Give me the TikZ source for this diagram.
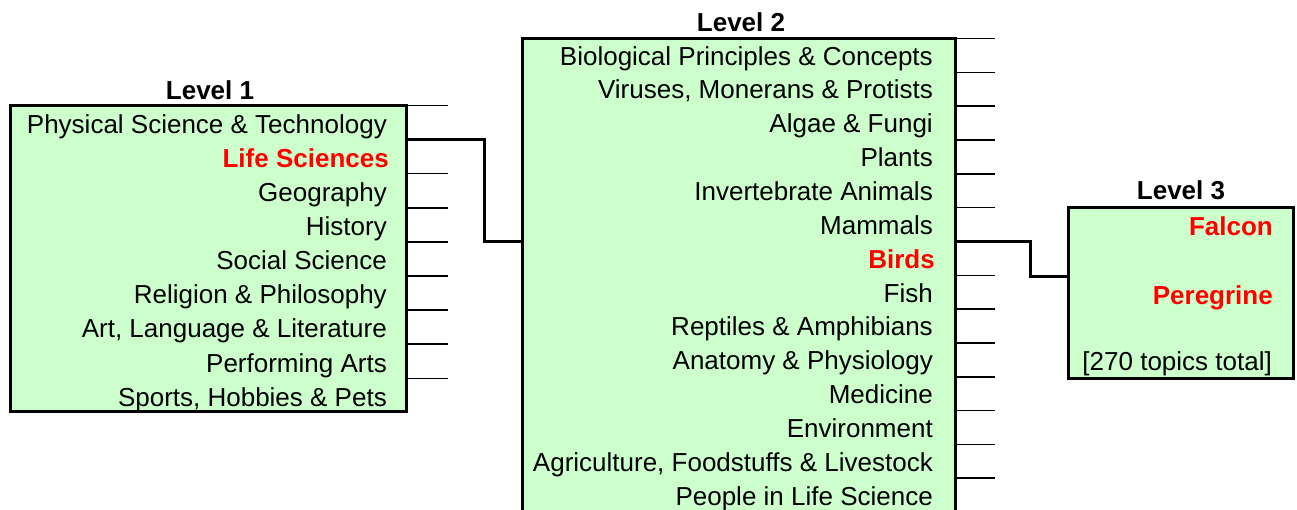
\documentclass[tikz,border=0pt]{standalone}
\usepackage{fontspec}
\setmainfont{Liberation Sans}
\usetikzlibrary{calc}
\definecolor{boxgreen}{HTML}{CCFFCC}
\definecolor{hotred}{HTML}{FF0000}
\begin{document}
\begin{tikzpicture}[x=1pt,y=-1pt,
  box/.style={draw=black, line width=3pt, fill=boxgreen, inner sep=0pt, outer sep=0pt, anchor=north west},
  tickline/.style={line width=1.6pt},
  conn/.style={line width=3pt},
  item/.style={anchor=base east, font=\fontsize{26}{30}\selectfont, text=black, inner sep=0pt},
  hot/.style={anchor=base east, font=\fontsize{26}{30}\selectfont\bfseries, text=hotred, inner sep=0pt},
  level/.style={anchor=base, font=\fontsize{26}{30}\selectfont\bfseries, inner sep=0pt}]
\useasboundingbox (0,0) rectangle (1297,510);
\clip (0,0) rectangle (1297,510);

% boxes
\node[box, minimum width=396pt, minimum height=306pt] (b1) at (10,105.5) {};
\node[box, minimum width=433pt, minimum height=473pt] (b2) at (522,38.5) {};
\node[box, minimum width=225pt, minimum height=170pt] (b3) at (1068,208) {};

% level labels
\node[level] (lv1) at (210,99.5) {Level 1};
\node[level] (lv2) at (741,32) {Level 2};
\node[level] (lv3) at (1181,200) {Level 3};

% ticks
\foreach \k in {0,2,3,4,5,6,7,8}
  \draw[tickline] ($(b1.north east)+(0,34.1*\k)$) -- ++(42,0);
\foreach \k in {0,1,2,3,4,5,7,8,9,10,11,12,13}
  \draw[tickline] ($(b2.north east)+(0,33.83*\k)$) -- ++(40,0);

% level 1 items
\node[item] (a1) at (387,133.3) {Physical Science \& Technology};
\node[hot]  (a2) at (389,167.4) {Life Sciences};
\node[item] (a3) at (387,201.5) {Geography};
\node[item] (a4) at (387,235.6) {History};
\node[item] (a5) at (387,269.7) {Social Science};
\node[item] (a6) at (387,303.8) {Religion \& Philosophy};
\node[item] (a7) at (387,337.9) {Art, Language \& Literature};
\node[item] (a8) at (387,372.0) {Performing Arts};
\node[item] (a9) at (387,406.1) {Sports, Hobbies \& Pets};

% level 2 items
\node[item] (c1)  at (933,65.2)  {Biological Principles \& Concepts};
\node[item] (c2)  at (933,99.0)  {Viruses, Monerans \& Protists};
\node[item] (c3)  at (933,132.9) {Algae \& Fungi};
\node[item] (c4)  at (933,166.7) {Plants};
\node[item] (c5)  at (933,200.5) {Invertebrate Animals};
\node[item] (c6)  at (933,234.4) {Mammals};
\node[hot]  (c7)  at (935,268.2) {Birds};
\node[item] (c8)  at (933,302.0) {Fish};
\node[item] (c9)  at (933,335.8) {Reptiles \& Amphibians};
\node[item] (c10) at (933,369.7) {Anatomy \& Physiology};
\node[item] (c11) at (933,403.5) {Medicine};
\node[item] (c12) at (933,437.3) {Environment};
\node[item] (c13) at (933,471.2) {Agriculture, Foodstuffs \& Livestock};
\node[item] (c14) at (933,505.0) {People in Life Science};

% level 3 items
\node[hot]  (d1) at (1273,235.5) {Falcon};
\node[hot]  (d2) at (1273,305) {Peregrine};
\node[item] (d3) at (1272,370.5) {[270 topics total]};

% connectors
\coordinate (o1) at ($(b1.north east)+(0,34.1)$);
\coordinate (i2) at ($(b2.north west)+(0,202.98)$);
\coordinate (o2) at ($(b2.north east)+(0,202.98)$);
\coordinate (i3) at ($(b3.north west)+(0,68.5)$);
\draw[conn] (o1) -- ++(78,0) |- (i2);
\draw[conn] (o2) -- ++(75,0) |- (i3);
\end{tikzpicture}
\end{document}
